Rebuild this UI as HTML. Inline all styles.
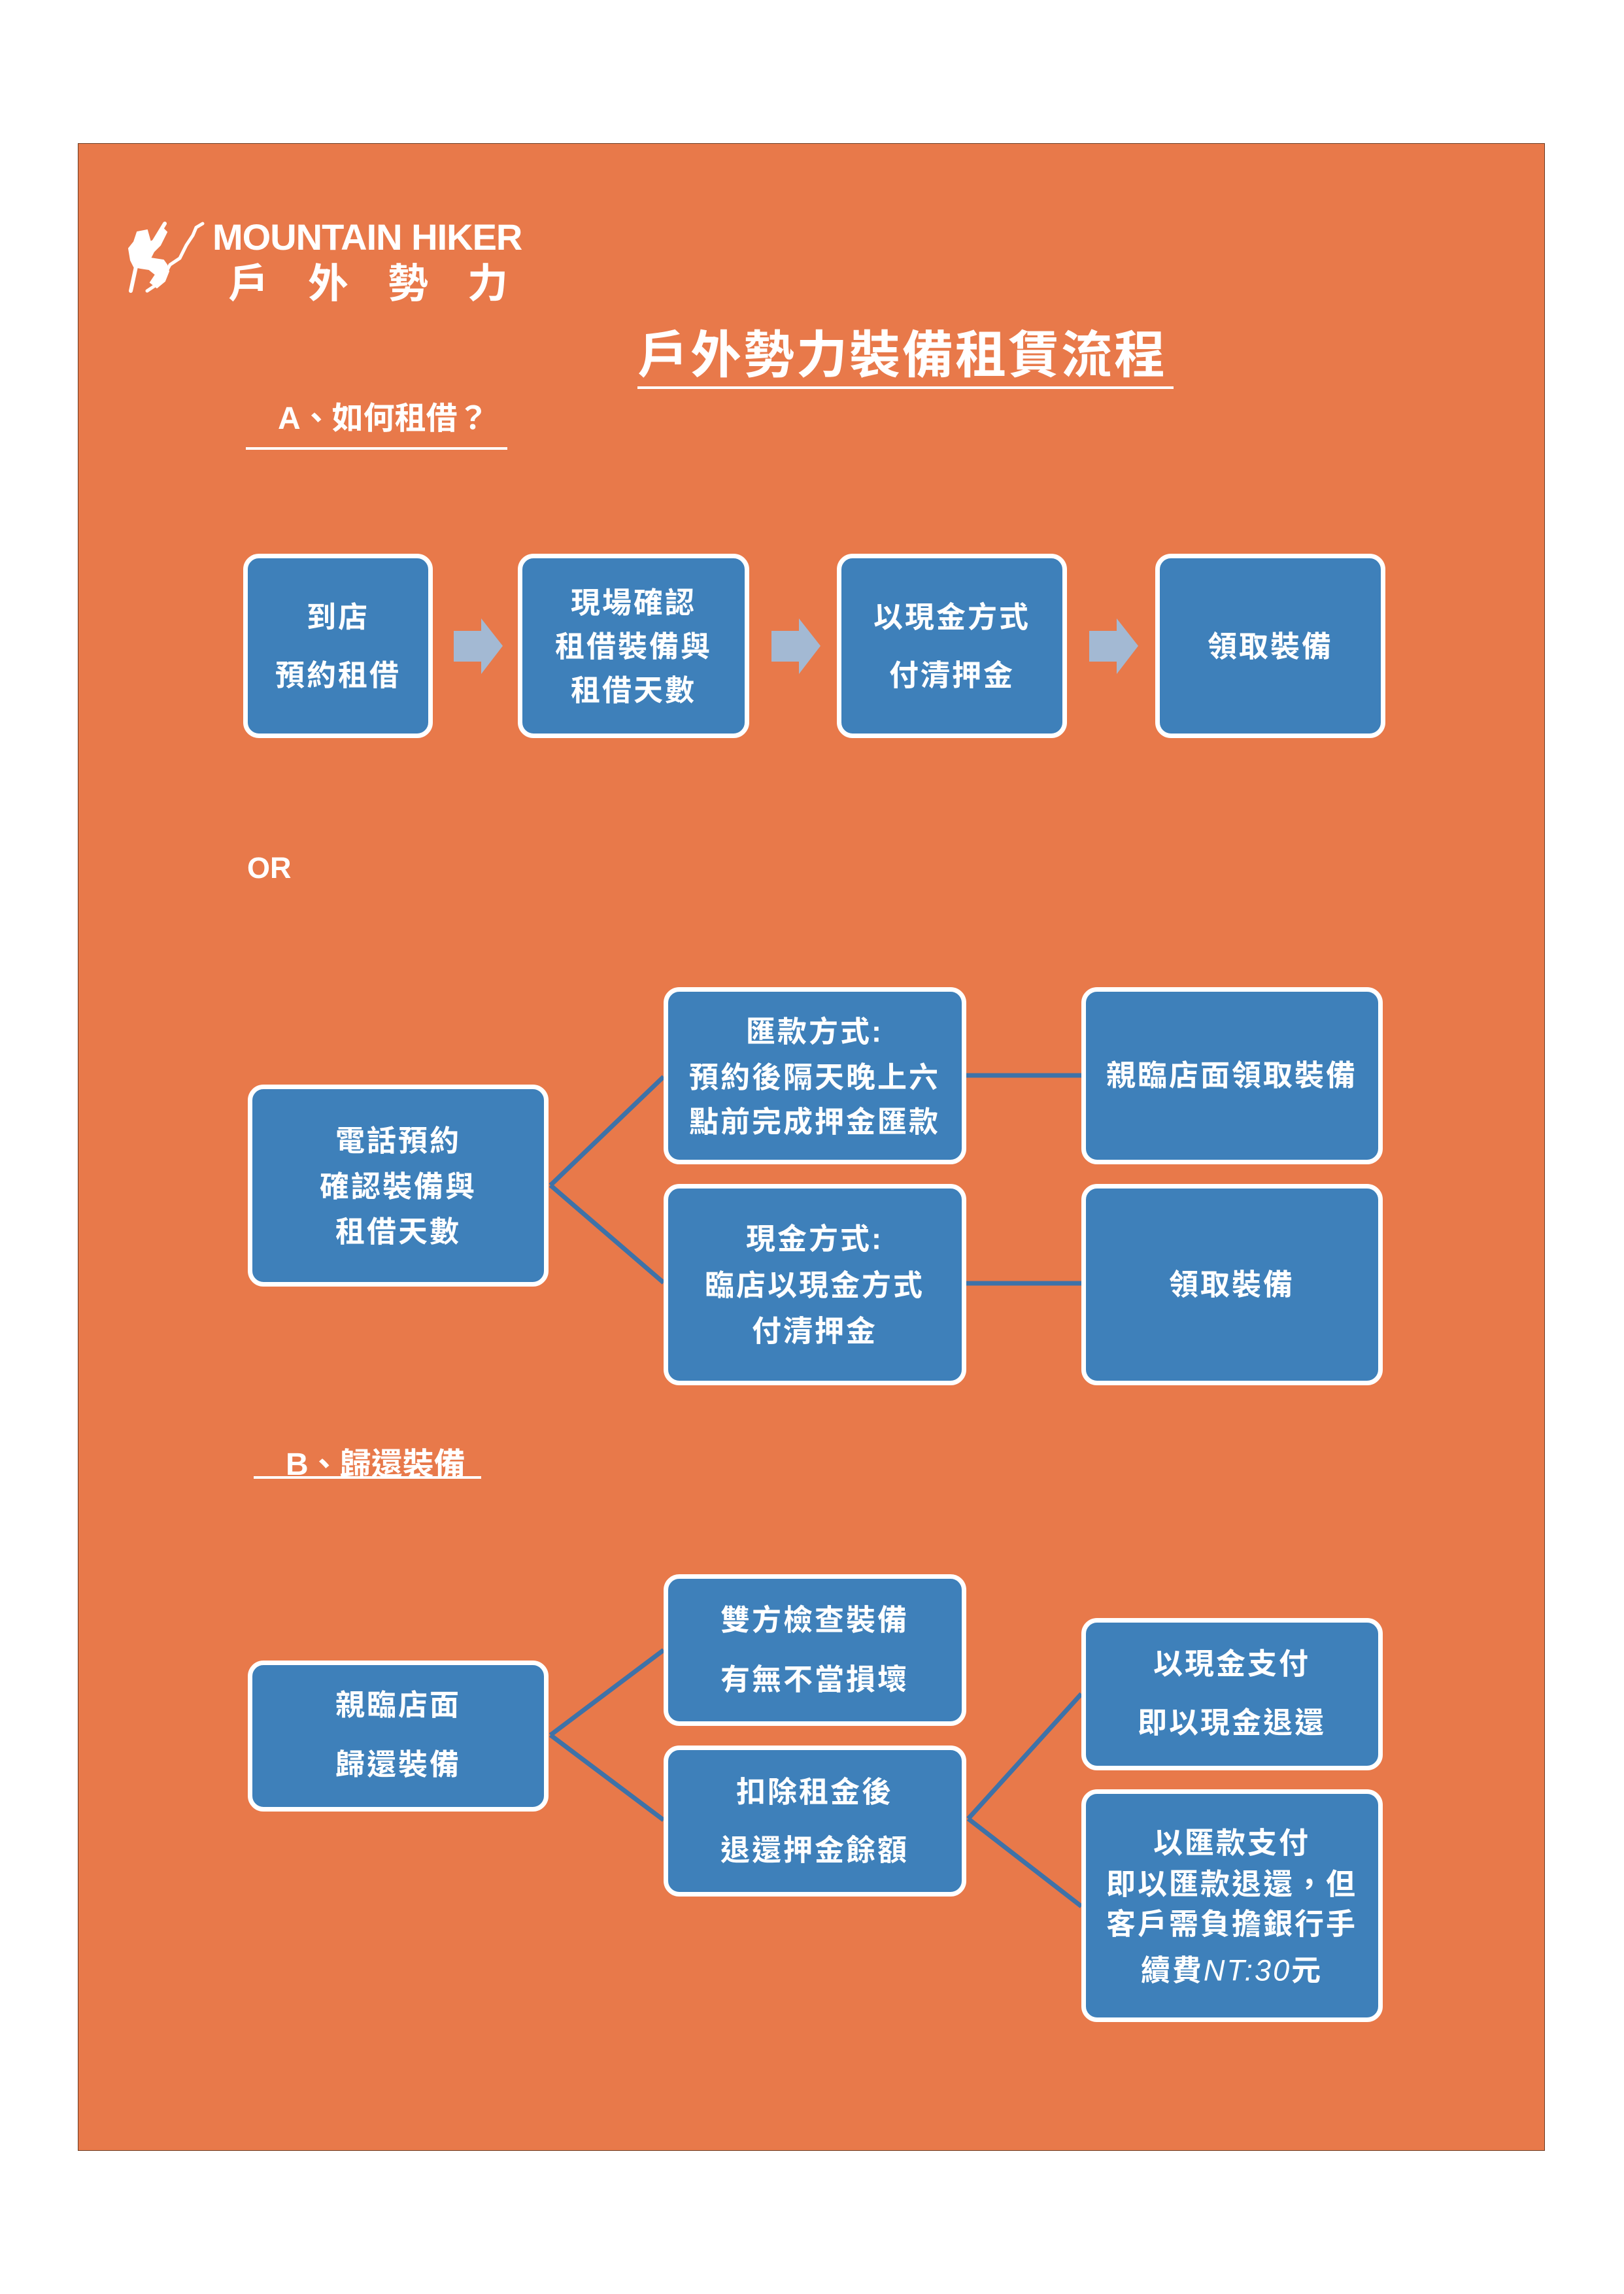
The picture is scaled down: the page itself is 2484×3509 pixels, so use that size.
<!DOCTYPE html>
<html><head><meta charset="utf-8"><style>
body{margin:0;width:2484px;height:3509px;background:#fff;position:relative;overflow:hidden;font-family:"Liberation Sans","Noto Sans CJK TC",sans-serif;}
.bg{position:absolute;left:119px;top:219px;width:2244px;height:3071px;background:#E8794A;border:1px solid #6a3a20;box-sizing:border-box;}
.t{position:absolute;color:#fff;font-weight:bold;white-space:nowrap;}
.box{position:absolute;background:#3E80BA;border:7px solid #fff;border-radius:24px;box-sizing:border-box;}
.bt{position:absolute;color:#fff;font-weight:bold;font-size:45px;letter-spacing:3px;white-space:nowrap;text-align:center;transform:translate(-50%,-50%);line-height:1;}
.ul{position:absolute;background:#fff;height:4px;}
</style></head><body>
<div class="bg"></div>
<svg style="position:absolute;left:180px;top:320px" width="150" height="150" viewBox="0 0 150 150">
<g fill="#fff" stroke="#fff" stroke-linecap="round">
<path d="M30 35 L45 32 L50 50 L60 45 L70 30 L75 35 L65 55 L55 65 L50 75 L70 78 L75 85 L78 95 L72 110 L60 120 L50 112 L58 100 L48 92 L35 90 L25 88 L20 78 L17 60 L25 50 Z" stroke-width="2"/>
<line x1="28" y1="88" x2="20" y2="125" stroke-width="6"/>
<line x1="55" y1="50" x2="72" y2="22" stroke-width="6"/>
<polyline points="45,125 60,115 72,100 80,85 95,75 105,55 115,40 120,28 130,22" fill="none" stroke-width="5"/>
</g></svg>
<div class="t" style="left:325px;top:330px;font-size:56px;letter-spacing:-1px;">MOUNTAIN HIKER</div>
<div class="t" style="left:349px;top:383px;font-size:62px;letter-spacing:60px;">戶外勢力</div>
<div class="t" style="left:975px;top:481px;font-size:78px;letter-spacing:3px;">戶外勢力裝備租賃流程</div>
<div class="ul" style="left:975px;top:591px;width:820px;"></div>
<div class="t" style="left:425px;top:600px;font-size:48px;">A、如何租借？</div>
<div class="ul" style="left:376px;top:684px;width:400px;"></div>

<div class="box" style="left:372px;top:847px;width:290px;height:282px;"></div>
<div class="box" style="left:792px;top:847px;width:354px;height:282px;"></div>
<div class="box" style="left:1280px;top:847px;width:352px;height:282px;"></div>
<div class="box" style="left:1767px;top:847px;width:352px;height:282px;"></div>
<svg style="position:absolute;left:0;top:0" width="2484" height="3509">
<g fill="#A3B9D3">
<polygon points="694,965 736,965 736,946 769,988 736,1031 736,1012 694,1012"/>
<polygon points="1180,965 1222,965 1222,946 1255,988 1222,1031 1222,1012 1180,1012"/>
<polygon points="1666,965 1708,965 1708,946 1741,988 1708,1031 1708,1012 1666,1012"/>
</g>
<g stroke="#3E72A8" stroke-width="7" fill="none">
<line x1="842" y1="1813" x2="1015" y2="1647"/>
<line x1="842" y1="1813" x2="1015" y2="1962"/>
<line x1="1478" y1="1645" x2="1654" y2="1645"/>
<line x1="1478" y1="1963" x2="1654" y2="1963"/>
<line x1="842" y1="2654" x2="1015" y2="2524"/>
<line x1="842" y1="2654" x2="1015" y2="2784"/>
<line x1="1481" y1="2782" x2="1654" y2="2591"/>
<line x1="1481" y1="2782" x2="1654" y2="2916"/>
</g></svg>
<div class="bt" style="left:517px;top:944px;">到店</div>
<div class="bt" style="left:517px;top:1033px;">預約租借</div>
<div class="bt" style="left:969px;top:922px;">現場確認</div>
<div class="bt" style="left:969px;top:989px;">租借裝備與</div>
<div class="bt" style="left:969px;top:1056px;">租借天數</div>
<div class="bt" style="left:1456px;top:944px;">以現金方式</div>
<div class="bt" style="left:1456px;top:1033px;">付清押金</div>
<div class="bt" style="left:1943px;top:989px;">領取裝備</div>

<div class="t" style="left:378px;top:1302px;font-size:45px;">OR</div>

<div class="box" style="left:379px;top:1659px;width:460px;height:309px;"></div>
<div class="box" style="left:1015px;top:1510px;width:463px;height:271px;"></div>
<div class="box" style="left:1015px;top:1811px;width:463px;height:308px;"></div>
<div class="box" style="left:1654px;top:1510px;width:461px;height:271px;"></div>
<div class="box" style="left:1654px;top:1811px;width:461px;height:308px;"></div>
<div class="bt" style="left:609px;top:1745px;">電話預約</div>
<div class="bt" style="left:609px;top:1815px;">確認裝備與</div>
<div class="bt" style="left:609px;top:1884px;">租借天數</div>
<div class="bt" style="left:1246px;top:1578px;">匯款方式:</div>
<div class="bt" style="left:1246px;top:1648px;">預約後隔天晚上六</div>
<div class="bt" style="left:1246px;top:1716px;">點前完成押金匯款</div>
<div class="bt" style="left:1246px;top:1895px;">現金方式:</div>
<div class="bt" style="left:1246px;top:1966px;">臨店以現金方式</div>
<div class="bt" style="left:1246px;top:2036px;">付清押金</div>
<div class="bt" style="left:1884px;top:1645px;">親臨店面領取裝備</div>
<div class="bt" style="left:1884px;top:1965px;">領取裝備</div>

<div class="t" style="left:437px;top:2200px;font-size:48px;">B、歸還裝備</div>
<div class="ul" style="left:388px;top:2258px;width:348px;"></div>

<div class="box" style="left:379px;top:2540px;width:460px;height:231px;"></div>
<div class="box" style="left:1015px;top:2408px;width:463px;height:232px;"></div>
<div class="box" style="left:1015px;top:2670px;width:463px;height:231px;"></div>
<div class="box" style="left:1654px;top:2475px;width:461px;height:233px;"></div>
<div class="box" style="left:1654px;top:2737px;width:461px;height:356px;"></div>
<div class="bt" style="left:609px;top:2608px;">親臨店面</div>
<div class="bt" style="left:609px;top:2699px;">歸還裝備</div>
<div class="bt" style="left:1246px;top:2478px;">雙方檢查裝備</div>
<div class="bt" style="left:1246px;top:2569px;">有無不當損壞</div>
<div class="bt" style="left:1246px;top:2741px;">扣除租金後</div>
<div class="bt" style="left:1246px;top:2830px;">退還押金餘額</div>
<div class="bt" style="left:1884px;top:2545px;">以現金支付</div>
<div class="bt" style="left:1884px;top:2635px;">即以現金退還</div>
<div class="bt" style="left:1884px;top:2819px;">以匯款支付</div>
<div class="bt" style="left:1884px;top:2882px;">即以匯款退還，但</div>
<div class="bt" style="left:1884px;top:2943px;">客戶需負擔銀行手</div>
<div class="bt" style="left:1884px;top:3014px;">續費<span style="font-weight:normal;font-style:italic;">NT:30</span>元</div>
</body></html>
